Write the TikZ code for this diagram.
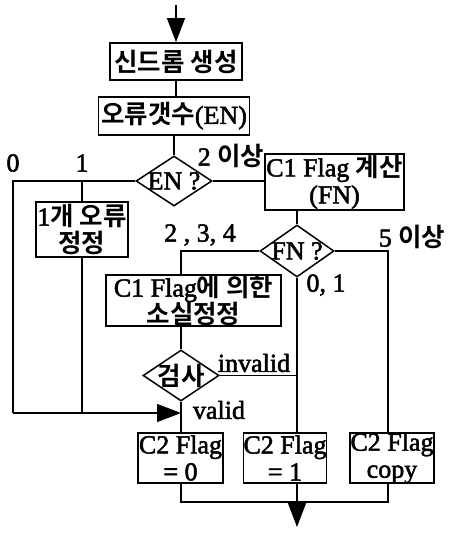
\documentclass[tikz,border=0pt]{standalone}
\usepackage{fontspec}
\setmainfont{Liberation Serif}[FakeStretch=1.0,FakeBold=2]
\newfontfamily\krfont{Noto Sans CJK KR Bold}
\newcommand\K[1]{{\krfont\fontsize{25.5}{27}\selectfont #1}}
\usetikzlibrary{arrows.meta,shapes.geometric}
\begin{document}
\begin{tikzpicture}[x=1pt,y=-1pt,
  every node/.style={font=\fontsize{26}{27}\selectfont, inner sep=0pt},
  box/.style={draw, line width=1.8pt, align=center},
  dia/.style={draw, diamond, line width=1.5pt, minimum width=76pt, minimum height=50pt},
  conn/.style={line width=1.4pt},
  arr/.style={conn, -{Triangle[length=24pt,width=18pt]}}]
\useasboundingbox (0,0) rectangle (448,535);
% nodes
\node[box, minimum width=132pt, minimum height=37pt] (b1) at (176,61.5) {\K{신드롬 생성}};
\node[box, minimum width=151pt, minimum height=38pt] (b2) at (174,116) {\K{오류갯수}(EN)};
\node[dia, label=center:{EN ?}] (en) at (174,181) {};
\node[box, minimum width=139pt, minimum height=56pt] (c1) at (334.5,182) {C1 Flag \K{계산}\\(FN)};
\node[box, minimum width=92pt, minimum height=55pt] (e1) at (82,229.5) {1\K{개 오류}\\\K{정정}};
\node[dia, minimum width=74pt, minimum height=52pt, label=center:{FN ?}] (fn) at (297,251) {};
\node[box, minimum width=175pt, minimum height=49pt] (c1f) at (193.5,300.5) {C1 Flag\K{에 의한}\\\K{소실정정}};
\node[dia, minimum height=51pt, label=center:{\K{검사}}] (chk) at (181,375.5) {};
\node[box, minimum width=85pt, minimum height=50pt] (f0) at (180.5,458) {C2 Flag\\= 0};
\node[box, minimum width=82pt, minimum height=50pt] (f1) at (285,458) {C2 Flag\\= 1};
\node[box, minimum width=84pt, minimum height=50pt] (fc) at (392,458) {C2 Flag\\copy};
% labels
\node (l0) at (13,163) {0};
\node (l1) at (82,163) {1};
\node (l2) at (231,156) {2 \K{이상}};
\node (l234) at (200,235) {2 , 3, 4};
\node (l5) at (412,237) {5 \K{이상}};
\node (l01) at (326,285) {0, 1};
\node (linv) at (254,363) {invalid};
\node (lval) at (219,410) {valid};
% coordinates
\coordinate (top) at (176,5);
\coordinate (bot) at (297,527);
\coordinate (L0) at (13,181);
\coordinate (Lb) at (13,413);
\coordinate (rc) at (388,502);
% connectors
\draw[arr] (top) -- (b1.north);
\draw[conn] (b1.south) -- (b1.south |- b2.north);
\draw[conn] (b2.south) -- (en.north);
\draw[conn] (en.west) -- (L0) -- (Lb);
\draw[arr] (Lb) -- (Lb -| chk);
\draw[conn] (en.west -| e1.north) -- (e1.north);
\draw[conn] (e1.south) -- (e1.south |- Lb);
\draw[conn] (en.east) -- (en.east -| c1.west);
\draw[conn] (c1.south -| fn.north) -- (fn.north);
\draw[conn] (fn.west) -| (chk |- c1f.north);
\draw[conn] (c1f.south -| chk) -- (chk.north);
\draw[conn] (fn.east) -| (rc |- fc.north);
\draw[conn] (fn.south) -- (fn.south |- f1.north);
\draw[conn] (chk.east) -- (chk.east -| fn.south);
\draw[conn] (chk.south) -- (chk.south |- f0.north);
\draw[conn] (f0.south -| chk) |- (rc) -- (rc |- fc.south);
\draw[arr] (f1.south -| fn) -- (bot);
\end{tikzpicture}
\end{document}
